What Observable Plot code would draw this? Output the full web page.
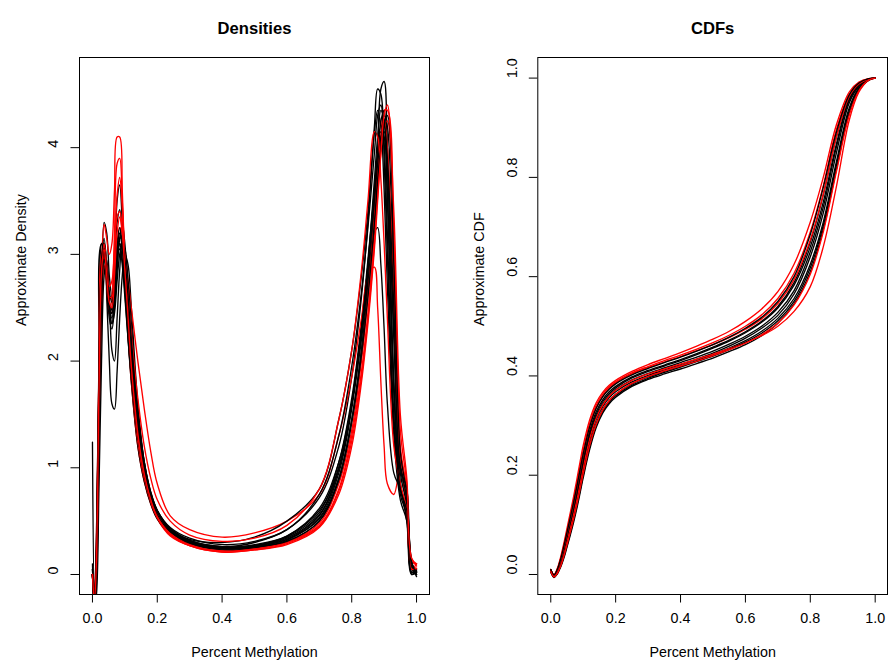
<!DOCTYPE html>
<html><head><meta charset="utf-8">
<script src="https://cdn.jsdelivr.net/npm/d3@7"></script>
<script src="https://cdn.jsdelivr.net/npm/@observablehq/plot@0.6"></script>
<style>
body{margin:0;background:#fff}
#wrap{display:flex;width:888px;height:665px;background:#fff}
</style>
</head><body><div id="wrap"></div>
<script>
// ---- tick labels / titles ----
const xTicks = [0, 0.2, 0.4, 0.6, 0.8, 1.0];
const densityYTicks = [0, 1, 2, 3, 4];
const cdfYTicks = [0, 0.2, 0.4, 0.6, 0.8, 1.0];

// ---- density curves (x grid shared) ----
const densityX = [0, 0.006, 0.012, 0.02, 0.028, 0.036, 0.044, 0.052, 0.06, 0.068,
  0.076, 0.084, 0.092, 0.10, 0.11, 0.12, 0.14, 0.16, 0.18, 0.20,
  0.24, 0.30, 0.40, 0.50, 0.60, 0.70, 0.76, 0.80, 0.83, 0.85,
  0.87, 0.88, 0.89, 0.90, 0.91, 0.93, 0.95, 0.97, 0.985, 1.0];

const densB1 = [1.24, -0.2, 0.3, 2.0, 3.1, 3.1, 2.6, 2.0, 1.6, 1.55,
  1.9, 2.4, 2.8, 3.0, 2.9, 2.5, 1.6, 1.05, 0.75, 0.58,
  0.42, 0.31, 0.25, 0.27, 0.35, 0.58, 1.05, 1.65, 2.35, 2.95,
  3.6, 3.95, 4.15, 4.1, 3.5, 1.7, 0.85, 0.5, 0.0, 0.02];
const densB2 = [0.1, -0.3, -0.1, 1.2, 2.6, 3.3, 3.2, 2.8, 2.6, 2.9,
  3.5, 3.65, 3.3, 2.8, 2.25, 1.85, 1.25, 0.9, 0.68, 0.54,
  0.38, 0.29, 0.24, 0.25, 0.31, 0.5, 0.9, 1.45, 2.1, 2.7,
  3.45, 3.95, 4.55, 4.62, 4.0, 1.8, 0.8, 0.6, 0.05, 0.0];
const densB3 = [0.0, -0.25, 0.2, 1.9, 3.1, 3.0, 2.7, 2.45, 2.5, 2.9,
  3.3, 3.42, 3.2, 2.8, 2.3, 1.9, 1.3, 0.92, 0.7, 0.55,
  0.4, 0.3, 0.26, 0.3, 0.42, 0.72, 1.2, 1.85, 2.6, 3.3,
  4.2, 4.55, 4.5, 3.9, 3.0, 1.4, 0.75, 0.55, 0.02, 0.03];
const densB4 = [0.05, -0.2, 0.0, 1.5, 2.7, 3.0, 2.75, 2.4, 2.3, 2.5,
  2.85, 3.15, 3.28, 3.1, 2.65, 2.2, 1.45, 1.0, 0.74, 0.57,
  0.41, 0.3, 0.25, 0.28, 0.36, 0.6, 1.0, 1.6, 2.3, 2.9,
  3.6, 3.9, 4.1, 4.15, 3.8, 2.2, 1.0, 0.7, 0.1, -0.02];
const densB5 = [0.0, -0.3, -0.2, 0.8, 2.0, 2.8, 2.95, 2.6, 2.1, 2.0,
  2.4, 2.85, 3.1, 3.05, 2.75, 2.35, 1.55, 1.05, 0.77, 0.6,
  0.43, 0.32, 0.26, 0.27, 0.33, 0.52, 0.9, 1.45, 2.1, 2.65,
  3.3, 3.7, 4.05, 4.3, 4.2, 2.6, 1.05, 0.7, 0.1, 0.02];
const densB6 = [0.0, -0.25, 0.1, 1.7, 2.9, 3.1, 2.8, 2.5, 2.45, 2.7,
  3.0, 3.1, 2.95, 2.65, 2.2, 1.8, 1.2, 0.87, 0.66, 0.52,
  0.38, 0.29, 0.24, 0.27, 0.36, 0.62, 1.05, 1.6, 2.2, 2.75,
  3.2, 3.25, 2.9, 2.3, 1.6, 0.95, 0.8, 0.55, 0.05, 0.03];
const densB7 = [0.05, -0.2, 0.1, 1.6, 2.8, 3.05, 2.8, 2.6, 2.6, 2.8,
  3.0, 3.05, 2.9, 2.6, 2.2, 1.85, 1.3, 0.95, 0.72, 0.57,
  0.42, 0.33, 0.3, 0.35, 0.5, 0.8, 1.45, 2.1, 2.8, 3.4,
  4.15, 4.35, 4.2, 3.6, 2.7, 1.3, 0.7, 0.5, 0.0, 0.05];
const densB8 = [0.0, -0.3, 0.0, 1.4, 2.6, 3.0, 2.9, 2.65, 2.55, 2.75,
  3.1, 3.25, 3.1, 2.75, 2.3, 1.9, 1.3, 0.93, 0.7, 0.55,
  0.39, 0.29, 0.23, 0.25, 0.32, 0.53, 0.95, 1.55, 2.25, 2.85,
  3.55, 3.95, 4.25, 4.35, 4.0, 2.3, 0.95, 0.65, 0.08, 0.0];
const densB9 = [0.0, -0.25, 0.2, 1.8, 2.95, 3.15, 2.85, 2.5, 2.35, 2.55,
  2.9, 3.15, 3.15, 2.9, 2.45, 2.05, 1.4, 0.98, 0.73, 0.56,
  0.4, 0.3, 0.24, 0.26, 0.33, 0.55, 0.98, 1.6, 2.3, 2.9,
  3.7, 4.1, 4.35, 4.25, 3.6, 1.8, 0.85, 0.6, 0.05, 0.02];
const densB10 = [0.0, -0.3, -0.05, 1.3, 2.5, 2.95, 2.85, 2.55, 2.4, 2.6,
  2.95, 3.1, 3.05, 2.85, 2.5, 2.1, 1.45, 1.02, 0.76, 0.59,
  0.43, 0.32, 0.26, 0.27, 0.34, 0.56, 1.0, 1.6, 2.3, 2.85,
  3.5, 3.85, 4.1, 4.2, 3.9, 2.5, 1.0, 0.8, 0.1, 0.03];
const densB11 = [0.0, -0.2, 0.15, 1.75, 2.9, 3.05, 2.75, 2.45, 2.45, 2.7,
  3.05, 3.2, 3.05, 2.75, 2.35, 1.95, 1.38, 1.0, 0.75, 0.6,
  0.44, 0.34, 0.28, 0.31, 0.42, 0.75, 1.3, 1.95, 2.65, 3.25,
  3.95, 4.3, 4.4, 4.05, 3.2, 1.5, 0.8, 0.6, 0.02, 0.04];
const densB12 = [0.0, -0.3, 0.05, 1.5, 2.75, 3.05, 2.85, 2.5, 2.35, 2.45,
  2.75, 3.0, 3.1, 2.95, 2.6, 2.2, 1.5, 1.05, 0.77, 0.6,
  0.42, 0.31, 0.25, 0.26, 0.31, 0.5, 0.88, 1.42, 2.05, 2.6,
  3.3, 3.7, 4.0, 4.25, 4.3, 2.9, 1.15, 0.75, 0.12, 0.0];

const densR1 = [0.0, -0.2, 0.3, 1.9, 2.9, 3.28, 3.15, 3.0, 3.1, 3.6,
  4.1, 4.1, 3.6, 2.9, 2.25, 1.8, 1.2, 0.87, 0.66, 0.52,
  0.36, 0.27, 0.22, 0.24, 0.3, 0.46, 0.8, 1.3, 1.9, 2.45,
  3.2, 3.65, 4.05, 4.35, 4.35, 3.0, 1.2, 0.8, 0.15, 0.08];
const densR2 = [0.0, -0.25, 0.0, 1.2, 2.4, 2.9, 2.75, 2.5, 2.45, 2.7,
  3.05, 3.25, 3.2, 3.0, 2.75, 2.5, 2.0, 1.55, 1.15, 0.85,
  0.55, 0.42, 0.35, 0.39, 0.5, 0.75, 1.3, 1.85, 2.4, 2.8,
  2.88, 2.5, 1.8, 1.2, 0.85, 0.75, 1.0, 0.6, 0.05, 0.1];
const densR3 = [0.0, -0.2, 0.2, 1.9, 3.0, 3.05, 2.7, 2.45, 2.6, 3.2,
  3.85, 3.9, 3.5, 2.9, 2.3, 1.85, 1.25, 0.9, 0.68, 0.53,
  0.37, 0.27, 0.21, 0.23, 0.29, 0.45, 0.78, 1.25, 1.85, 2.4,
  3.1, 3.55, 3.95, 4.2, 4.25, 3.2, 1.35, 0.85, 0.12, 0.1];
const densR4 = [0.0, -0.3, 0.0, 1.4, 2.6, 3.0, 2.85, 2.6, 2.6, 3.0,
  3.55, 3.72, 3.45, 2.95, 2.4, 1.95, 1.32, 0.95, 0.72, 0.56,
  0.39, 0.28, 0.22, 0.24, 0.3, 0.48, 0.85, 1.35, 2.0, 2.6,
  3.35, 3.8, 4.1, 4.25, 4.0, 2.6, 1.1, 0.8, 0.1, 0.05];
const densR5 = [0.0, -0.2, 0.1, 1.6, 2.8, 3.1, 2.9, 2.7, 2.75, 3.05,
  3.35, 3.4, 3.25, 2.95, 2.6, 2.25, 1.65, 1.2, 0.9, 0.7,
  0.5, 0.37, 0.31, 0.34, 0.46, 0.8, 1.45, 2.1, 2.85, 3.5,
  4.15, 4.1, 3.7, 3.1, 2.4, 1.2, 0.85, 0.6, 0.05, 0.06];
const densR6 = [0.0, -0.25, 0.1, 1.7, 2.85, 3.05, 2.8, 2.55, 2.5, 2.8,
  3.2, 3.35, 3.2, 2.85, 2.4, 1.95, 1.32, 0.94, 0.7, 0.54,
  0.38, 0.27, 0.21, 0.23, 0.28, 0.44, 0.75, 1.2, 1.8, 2.35,
  3.05, 3.5, 3.95, 4.3, 4.4, 3.4, 1.5, 0.9, 0.15, 0.1];

// ---- CDF curves (x grid shared) ----
const cdfX = [0, 0.01, 0.02, 0.03, 0.04, 0.05, 0.06, 0.07, 0.08, 0.09,
  0.10, 0.12, 0.14, 0.16, 0.18, 0.20, 0.25, 0.30, 0.35, 0.40,
  0.45, 0.50, 0.55, 0.60, 0.65, 0.70, 0.75, 0.80, 0.84, 0.88,
  0.92, 0.95, 0.98, 1.0];

const cdfK1 = [.008, -.004, .005, .022, .045, .072, .098, .125, .155, .188,
  .22, .278, .318, .343, .36, .372, .392, .405, .416, .427,
  .438, .45, .464, .48, .5, .528, .572, .65, .74, .86,
  .955, .985, .998, 1.0];
const cdfK2 = [.006, -.005, .003, .018, .038, .062, .087, .113, .142, .174,
  .205, .262, .304, .332, .35, .363, .384, .398, .409, .42,
  .431, .443, .456, .471, .49, .516, .556, .625, .71, .83,
  .94, .98, .997, 1.0];
const cdfK3 = [.01, -.002, .008, .027, .052, .08, .108, .137, .168, .201,
  .234, .29, .328, .352, .368, .379, .398, .411, .422, .433,
  .445, .458, .472, .489, .51, .54, .588, .67, .765, .88,
  .962, .988, .998, 1.0];
const cdfK4 = [.005, -.006, .001, .014, .032, .055, .079, .104, .132, .163,
  .195, .252, .296, .325, .344, .357, .379, .393, .404, .414,
  .425, .436, .449, .463, .481, .506, .545, .61, .695, .815,
  .93, .976, .996, 1.0];
const cdfK5 = [.007, -.004, .004, .02, .042, .068, .093, .12, .15, .182,
  .214, .271, .312, .338, .356, .368, .388, .401, .412, .423,
  .434, .446, .46, .476, .496, .522, .565, .64, .728, .848,
  .95, .983, .997, 1.0];
const cdfK6 = [.009, -.003, .006, .024, .048, .076, .103, .131, .161, .194,
  .227, .284, .323, .348, .364, .376, .396, .409, .42, .431,
  .443, .456, .47, .487, .508, .537, .583, .66, .75, .866,
  .957, .986, .998, 1.0];
const cdfK7 = [.006, -.005, .002, .016, .035, .058, .083, .109, .137, .168,
  .2, .257, .3, .329, .347, .36, .381, .395, .407, .418,
  .429, .44, .453, .468, .486, .511, .55, .618, .703, .823,
  .935, .978, .996, 1.0];
const cdfK8 = [.01, -.001, .01, .03, .056, .085, .114, .144, .176, .21,
  .243, .298, .335, .358, .373, .384, .402, .415, .427, .438,
  .45, .463, .478, .496, .518, .55, .6, .685, .78, .89,
  .966, .99, .999, 1.0];

const cdfQ1 = [.01, 0, .012, .034, .062, .093, .124, .156, .19, .226,
  .26, .312, .346, .367, .381, .391, .409, .423, .435, .447,
  .46, .474, .49, .51, .535, .57, .625, .71, .8, .905,
  .972, .992, .999, 1.0];
const cdfQ2 = [.01, -.001, .01, .031, .058, .088, .118, .149, .182, .217,
  .251, .305, .341, .363, .378, .388, .406, .419, .431, .442,
  .454, .467, .482, .5, .523, .556, .607, .69, .783, .895,
  .968, .99, .999, 1.0];
const cdfQ3 = [.007, -.004, .004, .02, .042, .068, .094, .121, .151, .183,
  .216, .274, .315, .341, .359, .371, .391, .404, .414, .424,
  .434, .444, .455, .467, .481, .5, .53, .58, .66, .78,
  .915, .972, .996, 1.0];
const cdfQ4 = [.009, -.002, .008, .028, .054, .083, .112, .142, .174, .208,
  .242, .298, .336, .359, .375, .386, .404, .417, .428, .439,
  .451, .463, .477, .494, .515, .546, .594, .674, .766, .88,
  .963, .988, .998, 1.0];
const cdfQ5 = [.006, -.005, .002, .016, .036, .06, .085, .111, .14, .171,
  .203, .26, .302, .331, .35, .363, .385, .399, .41, .42,
  .43, .441, .453, .466, .483, .506, .543, .605, .69, .81,
  .925, .975, .996, 1.0];

// drawing order (as in the sample order of the original)
const densitySeries = [
  [densB1, "black"], [densB2, "black"], [densR1, "red"], [densB3, "black"],
  [densB4, "black"], [densR2, "red"], [densB5, "black"], [densB6, "black"],
  [densR3, "red"], [densB7, "black"], [densB8, "black"], [densR4, "red"],
  [densB9, "black"], [densB10, "black"], [densR5, "red"], [densB11, "black"],
  [densB12, "black"], [densR6, "red"]
];
const cdfSeries = [
  [cdfK1, "black"], [cdfQ1, "red"], [cdfK2, "black"], [cdfK3, "black"],
  [cdfQ2, "red"], [cdfK4, "black"], [cdfK5, "black"], [cdfQ3, "red"],
  [cdfK6, "black"], [cdfK7, "black"], [cdfQ4, "red"], [cdfK8, "black"],
  [cdfQ5, "red"]
];

function rows(xs, series) {
  const out = [];
  series.forEach(([vals, col], i) => vals.forEach((v, j) => out.push({x: xs[j], y: v, id: i, col})));
  return out;
}

const FONT = "'Liberation Sans', Arial, Helvetica, sans-serif";
const FS = 14.3;

function panel({data, title, ylab, yTicks, yFmt, xDomain, yDomain, marginLeft, marginRight}) {
  return Plot.plot({
    width: 444, height: 665,
    marginLeft, marginRight, marginTop: 57, marginBottom: 71,
    style: {fontFamily: FONT, fontSize: FS + "px", background: "white", color: "black"},
    x: {domain: xDomain, axis: null},
    y: {domain: yDomain, axis: null},
    color: {type: "identity"},
    marks: [
      Plot.line(data, {x: "x", y: "y", z: "id", stroke: "col", strokeWidth: 1.35, curve: "catmull-rom", clip: true}),
      Plot.frame({stroke: "black", strokeWidth: 1}),
      Plot.axisX({ticks: xTicks, tickSize: 8.5, fill: "none", label: null, stroke: "black"}),
      Plot.axisY({ticks: yTicks, tickSize: 8.5, fill: "none", label: null, stroke: "black"}),
      Plot.text(xTicks, {x: d => d, text: d => d.toFixed(1), frameAnchor: "bottom", dy: 28, fontSize: FS}),
      Plot.text(yTicks, {y: d => d, text: yFmt, frameAnchor: "left", dx: -25.6, rotate: -90, fontSize: FS}),
      Plot.text(["Percent Methylation"], {text: d => d, frameAnchor: "bottom", dy: 62, fontSize: FS}),
      Plot.text([ylab], {text: d => d, frameAnchor: "left", dx: -58.5, rotate: -90, fontSize: FS}),
      Plot.text([title], {text: d => d, frameAnchor: "top", dy: -35.3, fontSize: 16.6, fontWeight: "bold"})
    ]
  });
}

const wrap = document.getElementById("wrap");
wrap.append(panel({
  data: rows(densityX, densitySeries), title: "Densities", ylab: "Approximate Density",
  yTicks: densityYTicks, yFmt: d => String(d),
  xDomain: [-0.04, 1.04], yDomain: [-0.1875, 4.845], marginLeft: 79, marginRight: 15
}));
wrap.append(panel({
  data: rows(cdfX, cdfSeries), title: "CDFs", ylab: "Approximate CDF",
  yTicks: cdfYTicks, yFmt: d => d.toFixed(1),
  xDomain: [-0.04, 1.038], yDomain: [-0.0403, 1.0415], marginLeft: 93.3, marginRight: 1
}));
</script></body></html>
